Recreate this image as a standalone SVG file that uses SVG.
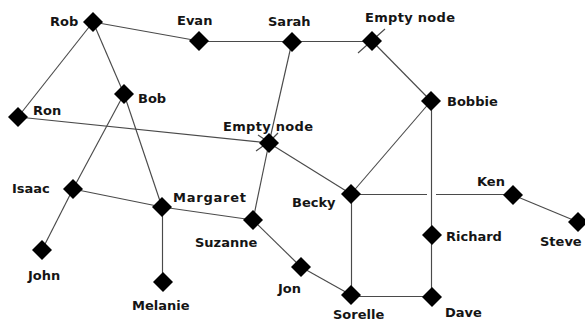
<svg xmlns="http://www.w3.org/2000/svg" xmlns:xlink="http://www.w3.org/1999/xlink" width="585" height="321" viewBox="0 0 585 321">
  <defs>
    <path id="dia" d="M0,-10 L10,0 L0,10 L-10,0 Z"/>
    <style>
      .bg { fill: #ffffff; }
      .edge { stroke: #4a4a4a; stroke-width: 1.15; fill: none; }
      .node use { fill: #000000; }
      .lbl { font-family: "DejaVu Sans", "Liberation Sans", sans-serif; font-weight: bold; font-size: 13px; fill: #151515; }
    </style>
  </defs>
  <rect class="bg" x="0" y="0" width="585" height="321"/>

  <g id="edges">
    <line class="edge" x1="93" y1="22" x2="199" y2="41"/>   <!-- Rob-Evan -->
    <line class="edge" x1="93" y1="22" x2="18" y2="117"/>   <!-- Rob-Ron -->
    <line class="edge" x1="93" y1="22" x2="124" y2="94"/>   <!-- Rob-Bob -->
    <line class="edge" x1="199" y1="41.5" x2="292" y2="41.5"/> <!-- Evan-Sarah -->
    <line class="edge" x1="292" y1="41.5" x2="372" y2="41.5"/> <!-- Sarah-Empty -->
    <line class="edge" x1="372" y1="41" x2="431" y2="101"/> <!-- Empty-Bobbie -->
    <line class="edge" x1="358" y1="53" x2="385" y2="29"/>  <!-- tick through empty node -->
    <line class="edge" x1="292" y1="42" x2="269" y2="143"/> <!-- Sarah-Empty -->
    <line class="edge" x1="269" y1="143" x2="253" y2="220"/><!-- Empty-Suzanne -->
    <line class="edge" x1="18" y1="117" x2="269" y2="143"/> <!-- Ron-Empty -->
    <line class="edge" x1="269" y1="143" x2="351" y2="194"/><!-- Empty-Becky -->
    <line class="edge" x1="256" y1="151" x2="263" y2="146"/>
    <line class="edge" x1="258" y1="135" x2="264" y2="139"/>
    <line class="edge" x1="278" y1="133" x2="273" y2="138"/>
    <line class="edge" x1="124" y1="94" x2="73" y2="189"/>  <!-- Bob-Isaac -->
    <line class="edge" x1="124" y1="94" x2="162" y2="207"/> <!-- Bob-Margaret -->
    <line class="edge" x1="73" y1="189" x2="42" y2="250"/>  <!-- Isaac-John -->
    <line class="edge" x1="73" y1="189" x2="162" y2="207"/> <!-- Isaac-Margaret -->
    <line class="edge" x1="162.5" y1="207" x2="162.5" y2="282"/> <!-- Margaret-Melanie -->
    <line class="edge" x1="162" y1="207" x2="253" y2="220"/><!-- Margaret-Suzanne -->
    <line class="edge" x1="253" y1="220" x2="301" y2="267"/><!-- Suzanne-Jon -->
    <line class="edge" x1="301" y1="267" x2="351" y2="295"/><!-- Jon-Sorelle -->
    <line class="edge" x1="351" y1="194" x2="431" y2="101"/><!-- Becky-Bobbie -->
    <line class="edge" x1="351.5" y1="194" x2="351.5" y2="295"/><!-- Becky-Sorelle -->
    <line class="edge" x1="351" y1="194.5" x2="427" y2="194.5"/><!-- Becky-Ken (jump) -->
    <line class="edge" x1="436" y1="194.5" x2="513" y2="194.5"/>
    <line class="edge" x1="431.5" y1="101" x2="431.5" y2="235"/><!-- Bobbie-Richard -->
    <line class="edge" x1="431.5" y1="235" x2="431.5" y2="297"/><!-- Richard-Dave -->
    <line class="edge" x1="351" y1="296.5" x2="432" y2="296.5"/><!-- Sorelle-Dave -->
    <line class="edge" x1="513" y1="195" x2="578" y2="222"/><!-- Ken-Steve -->
  </g>

  <g id="rob" class="node"><use xlink:href="#dia" x="93" y="22"/><text class="lbl" x="50" y="26">Rob</text></g>
  <g id="evan" class="node"><use xlink:href="#dia" x="199" y="41"/><text class="lbl" x="177" y="25">Evan</text></g>
  <g id="sarah" class="node"><use xlink:href="#dia" x="292" y="42"/><text class="lbl" x="268" y="26">Sarah</text></g>
  <g id="empty-top" class="node"><use xlink:href="#dia" x="372" y="41"/><text class="lbl" x="365" y="22" textLength="90">Empty node</text></g>
  <g id="ron" class="node"><use xlink:href="#dia" x="18" y="117"/><text class="lbl" x="33" y="115">Ron</text></g>
  <g id="bob" class="node"><use xlink:href="#dia" x="124" y="94"/><text class="lbl" x="138" y="103">Bob</text></g>
  <g id="empty-mid" class="node"><use xlink:href="#dia" x="269" y="143"/><text class="lbl" x="223" y="131" textLength="90">Empty node</text></g>
  <g id="bobbie" class="node"><use xlink:href="#dia" x="431" y="101"/><text class="lbl" x="447" y="106">Bobbie</text></g>
  <g id="isaac" class="node"><use xlink:href="#dia" x="73" y="189"/><text class="lbl" x="12" y="193">Isaac</text></g>
  <g id="margaret" class="node"><use xlink:href="#dia" x="162" y="207"/><text class="lbl" x="173" y="202" textLength="73">Margaret</text></g>
  <g id="suzanne" class="node"><use xlink:href="#dia" x="253" y="220"/><text class="lbl" x="195" y="247">Suzanne</text></g>
  <g id="becky" class="node"><use xlink:href="#dia" x="351" y="194"/><text class="lbl" x="292" y="207">Becky</text></g>
  <g id="ken" class="node"><use xlink:href="#dia" x="513" y="195"/><text class="lbl" x="477" y="186">Ken</text></g>
  <g id="steve" class="node"><use xlink:href="#dia" x="578" y="222"/><text class="lbl" x="540" y="246">Steve</text></g>
  <g id="richard" class="node"><use xlink:href="#dia" x="432" y="235"/><text class="lbl" x="446" y="241">Richard</text></g>
  <g id="john" class="node"><use xlink:href="#dia" x="42" y="250"/><text class="lbl" x="28" y="280">John</text></g>
  <g id="melanie" class="node"><use xlink:href="#dia" x="163" y="282"/><text class="lbl" x="132" y="310">Melanie</text></g>
  <g id="jon" class="node"><use xlink:href="#dia" x="301" y="267"/><text class="lbl" x="278" y="293">Jon</text></g>
  <g id="sorelle" class="node"><use xlink:href="#dia" x="351" y="295"/><text class="lbl" x="333" y="319">Sorelle</text></g>
  <g id="dave" class="node"><use xlink:href="#dia" x="432" y="297"/><text class="lbl" x="445" y="317">Dave</text></g>
</svg>
